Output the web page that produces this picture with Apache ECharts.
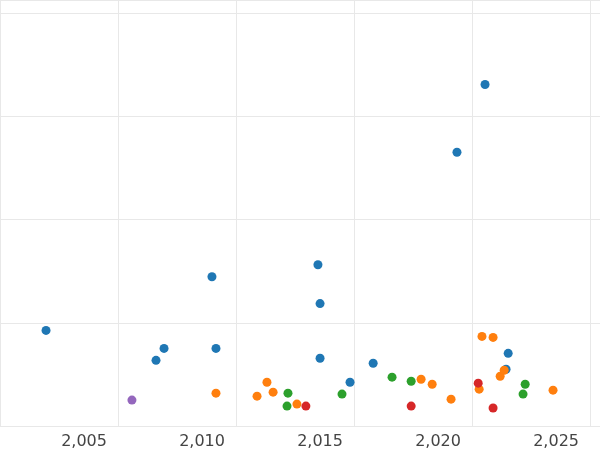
<!DOCTYPE html>
<html>
<head>
<meta charset="utf-8">
<script src="https://cdn.jsdelivr.net/npm/echarts@6/dist/echarts.min.js"></script>
<style>html,body{margin:0;background:#fff}#chart{width:600px;height:450px}</style>
</head>
<body>
<div id="chart"></div>
<script>
// [year, value] per group
const blue = [[2003.39,0.926],[2008.05,0.636],[2008.39,0.752],[2010.42,1.446],[2010.59,0.752],[2014.91,1.562],[2015.0,1.186],[2015.0,0.656],[2016.27,0.424],[2017.25,0.608],[2020.8,2.652],[2021.99,3.308],[2022.97,0.704],[2022.88,0.55]];
const orange = [[2010.59,0.318],[2012.33,0.289],[2012.75,0.424],[2013.01,0.328],[2014.02,0.212],[2019.28,0.453],[2019.75,0.405],[2020.55,0.26],[2021.74,0.357],[2021.86,0.868],[2022.33,0.858],[2022.63,0.482],[2022.8,0.54],[2024.87,0.347]];
const green = [[2013.64,0.318],[2013.6,0.193],[2015.93,0.309],[2018.05,0.473],[2018.86,0.434],[2023.69,0.405],[2023.6,0.309]];
const red = [[2014.4,0.193],[2018.86,0.193],[2021.7,0.415],[2022.33,0.174]];
const purple = [[2007.03,0.251]];

const groups = [
  { data: blue, color: '#1f77b4' },
  { data: orange, color: '#ff7f0e' },
  { data: green, color: '#2ca02c' },
  { data: red, color: '#d62728' },
  { data: purple, color: '#9467bd' },
];

const chart = echarts.init(document.getElementById('chart'));
chart.setOption({
  animation: false,
  grid: { left: 0, right: 0, top: 0, bottom: 22 },
  xAxis: {
    type: 'value', min: 2001.44, max: 2026.86, interval: 5,
    axisLine: { show: false }, axisTick: { show: false },
    axisLabel: {
      fontSize: 16, color: '#444', fontFamily: 'DejaVu Sans',
      customValues: [2005, 2010, 2015, 2020, 2025]
    },
    splitLine: { show: true, lineStyle: { color: '#e8e8e8' } }
  },
  yAxis: {
    type: 'value', min: 0, max: 4.127, interval: 1,
    axisLine: { show: false }, axisTick: { show: false },
    axisLabel: { show: false },
    splitLine: { lineStyle: { color: '#e8e8e8' } }
  },
  series: groups.map(g => ({
    type: 'scatter', data: g.data, symbolSize: 9,
    itemStyle: { color: g.color, opacity: 1 }
  }))
});
</script>
</body>
</html>
